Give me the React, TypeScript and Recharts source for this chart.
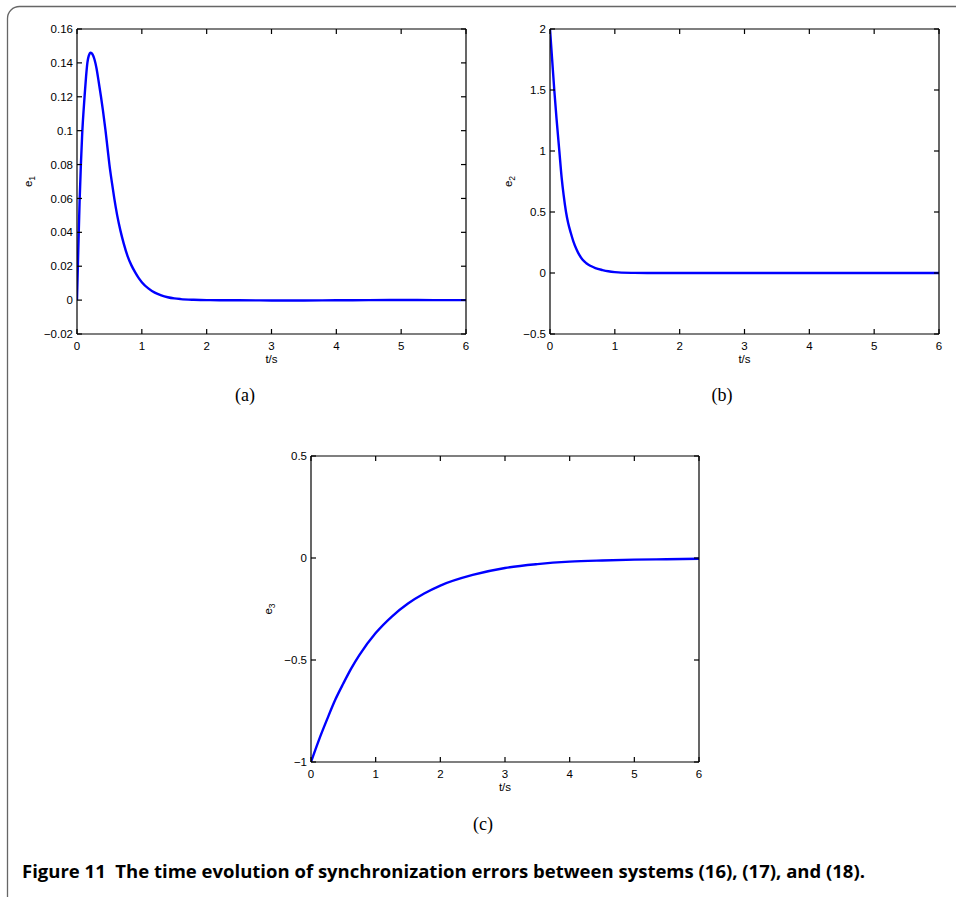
import { LineChart, Line, XAxis, YAxis } from 'recharts';

// time ticks shared by all three panels
const tTicks = [0, 1, 2, 3, 4, 5, 6];

// (a) e1
const e1Time = [0, 0.02, 0.04, 0.06, 0.08, 0.1, 0.12, 0.14, 0.16, 0.18, 0.21, 0.24, 0.27, 0.3, 0.33, 0.37, 0.4, 0.44, 0.47, 0.5, 0.54, 0.575, 0.62, 0.67, 0.72, 0.78, 0.84, 0.9, 0.95, 1.0, 1.1, 1.2, 1.3, 1.4, 1.5, 1.6, 1.8, 2, 2.5, 3, 3.5, 4, 4.5, 5, 5.5, 6];
const e1Values = [0, 0.03, 0.058, 0.08, 0.098, 0.111, 0.122, 0.132, 0.14, 0.144, 0.146, 0.145, 0.142, 0.137, 0.13, 0.12, 0.112, 0.1, 0.09, 0.08, 0.069, 0.06, 0.05, 0.041, 0.0335, 0.026, 0.0205, 0.0162, 0.0131, 0.0106, 0.0069, 0.0044, 0.0028, 0.0017, 0.001, 0.0006, 0.0002, 0, -0.0001, -0.0002, -0.0002, -0.0001, 0, 0.0001, 0, 0];
const e1Ticks = [-0.02, 0, 0.02, 0.04, 0.06, 0.08, 0.1, 0.12, 0.14, 0.16];

// (b) e2
const e2Time = [0, 0.033, 0.066, 0.1, 0.144, 0.18, 0.21, 0.247, 0.28, 0.32, 0.36, 0.41, 0.45, 0.5, 0.56, 0.63, 0.7, 0.81, 0.9, 1.0, 1.1, 1.3, 1.5, 2, 3, 4, 5, 6];
const e2Values = [2, 1.75, 1.5, 1.27, 1.0, 0.78, 0.64, 0.5, 0.41, 0.33, 0.26, 0.193, 0.15, 0.11, 0.08, 0.057, 0.04, 0.024, 0.014, 0.007, 0.003, 0.001, 0, 0, 0, 0, 0, 0];
const e2Ticks = [-0.5, 0, 0.5, 1, 1.5, 2];

// (c) e3
const e3Time = [0, 0.125, 0.25, 0.375, 0.5, 0.625, 0.75, 1, 1.25, 1.5, 1.75, 2, 2.5, 3, 3.5, 4, 4.5, 5, 5.5, 6];
const e3Values = [-1, -0.89, -0.79, -0.695, -0.615, -0.54, -0.475, -0.368, -0.287, -0.223, -0.174, -0.135, -0.083, -0.049, -0.03, -0.018, -0.012, -0.008, -0.006, -0.004];
const e3Ticks = [-1, -0.5, 0, 0.5];

const toRows = (ts: number[], vs: number[]) => ts.map((t, i) => ({ t, v: vs[i] }));

const AXIS_FONT = '"Liberation Sans", Arial, Helvetica, sans-serif';
const SERIF = '"Liberation Serif", "Times New Roman", serif';
const YW = 45; // left axis width
const XH = 30; // bottom axis height
const ML = 60;
const MT = 10;
const MR = 10;
const MB = 40;

const fmt = (v: number) => String(Math.round(v * 1000) / 1000).replace('-', '\u2212');
const blank = () => '';

interface PanelProps {
  rows: { t: number; v: number }[];
  yDomain: [number, number];
  yTicks: number[];
  sub: string;
  plotLeft: number;
  plotTop: number;
  plotW: number;
  plotH: number;
  labelGap: number;
}

function Panel({ rows, yDomain, yTicks, sub, plotLeft, plotTop, plotW, plotH, labelGap }: PanelProps) {
  const tickStyle = { fill: '#000', fontSize: 11.5, fontFamily: AXIS_FONT };
  const axisStroke = { stroke: '#000', strokeWidth: 1.2 };
  return (
    <div style={{ position: 'absolute', left: plotLeft - ML, top: plotTop - MT }}>
      <LineChart
        width={ML + plotW + MR}
        height={MT + plotH + MB}
        data={rows}
        margin={{ top: MT - 1, right: MR - 1, bottom: MB - XH, left: ML - YW }}
      >
        <XAxis
          dataKey="t"
          type="number"
          domain={[0, 6]}
          ticks={tTicks}
          interval={0}
          height={XH}
          tickSize={-5}
          tickMargin={13}
          axisLine={axisStroke}
          tickLine={axisStroke}
          tick={tickStyle}
          allowDataOverflow
          label={{
            content: (p: any) => {
              const vb = p.viewBox;
              return (
                <text x={vb.x + vb.width / 2} y={vb.y + 28.5} textAnchor="middle" fontSize={11.5} fontFamily={AXIS_FONT} fill="#000">
                  t/s
                </text>
              );
            },
          }}
        />
        <XAxis
          xAxisId="top"
          orientation="top"
          dataKey="t"
          type="number"
          domain={[0, 6]}
          ticks={tTicks}
          interval={0}
          height={1}
          tickSize={-5}
          axisLine={axisStroke}
          tickLine={axisStroke}
          tickFormatter={blank}
          allowDataOverflow
        />
        <YAxis
          type="number"
          domain={yDomain}
          ticks={yTicks}
          interval={0}
          width={YW}
          tickSize={-5}
          tickMargin={9}
          tickFormatter={fmt}
          axisLine={axisStroke}
          tickLine={axisStroke}
          tick={tickStyle}
          allowDataOverflow
          label={{
            content: (p: any) => {
              const vb = p.viewBox;
              const bx = vb.x + vb.width - labelGap;
              const cy = vb.y + vb.height / 2;
              return (
                <text x={bx} y={cy} transform={`rotate(-90 ${bx} ${cy})`} textAnchor="middle" fontSize={11.5} fontFamily={AXIS_FONT} fill="#000">
                  e<tspan dy={3} fontSize={8.5}>{sub}</tspan>
                </text>
              );
            },
          }}
        />
        <YAxis
          yAxisId="right"
          orientation="right"
          type="number"
          domain={yDomain}
          ticks={yTicks}
          interval={0}
          width={1}
          tickSize={-5}
          axisLine={axisStroke}
          tickLine={axisStroke}
          tickFormatter={blank}
          allowDataOverflow
        />
        <Line type="monotone" dataKey="v" stroke="#0000ff" strokeWidth={2.4} dot={false} isAnimationActive={false} />
      </LineChart>
    </div>
  );
}

export default function App() {
  return (
    <div style={{ position: 'absolute', left: 0, top: 0, width: 956, height: 897, overflow: 'hidden', background: '#fff' }}>
      <svg width={956} height={897} style={{ position: 'absolute', left: 0, top: 0 }}>
        <rect x={7.5} y={6.5} width={980} height={920} rx={12} fill="none" stroke="#666" strokeWidth={1.3} />
        <text x={245} y={401} textAnchor="middle" fontSize={18} fontFamily={SERIF}>(a)</text>
        <text x={722} y={401} textAnchor="middle" fontSize={18} fontFamily={SERIF}>(b)</text>
        <text x={483} y={830} textAnchor="middle" fontSize={18} fontFamily={SERIF}>(c)</text>
        <text x={22} y={878} fontSize={17.5} fontWeight="bold" fontFamily='"Open Sans", "Noto Sans", sans-serif' textLength={843} lengthAdjust="spacingAndGlyphs" style={{ whiteSpace: 'pre' }}>
          Figure 11  The time evolution of synchronization errors between systems (16), (17), and (18).
        </text>
      </svg>
      <Panel rows={toRows(e1Time, e1Values)} yDomain={[-0.02, 0.16]} yTicks={e1Ticks} sub="1" plotLeft={77} plotTop={29} plotW={389} plotH={305} labelGap={45} />
      <Panel rows={toRows(e2Time, e2Values)} yDomain={[-0.5, 2]} yTicks={e2Ticks} sub="2" plotLeft={550} plotTop={29} plotW={389} plotH={305} labelGap={38} />
      <Panel rows={toRows(e3Time, e3Values)} yDomain={[-1, 0.5]} yTicks={e3Ticks} sub="3" plotLeft={311} plotTop={456} plotW={388} plotH={306} labelGap={39} />
    </div>
  );
}
